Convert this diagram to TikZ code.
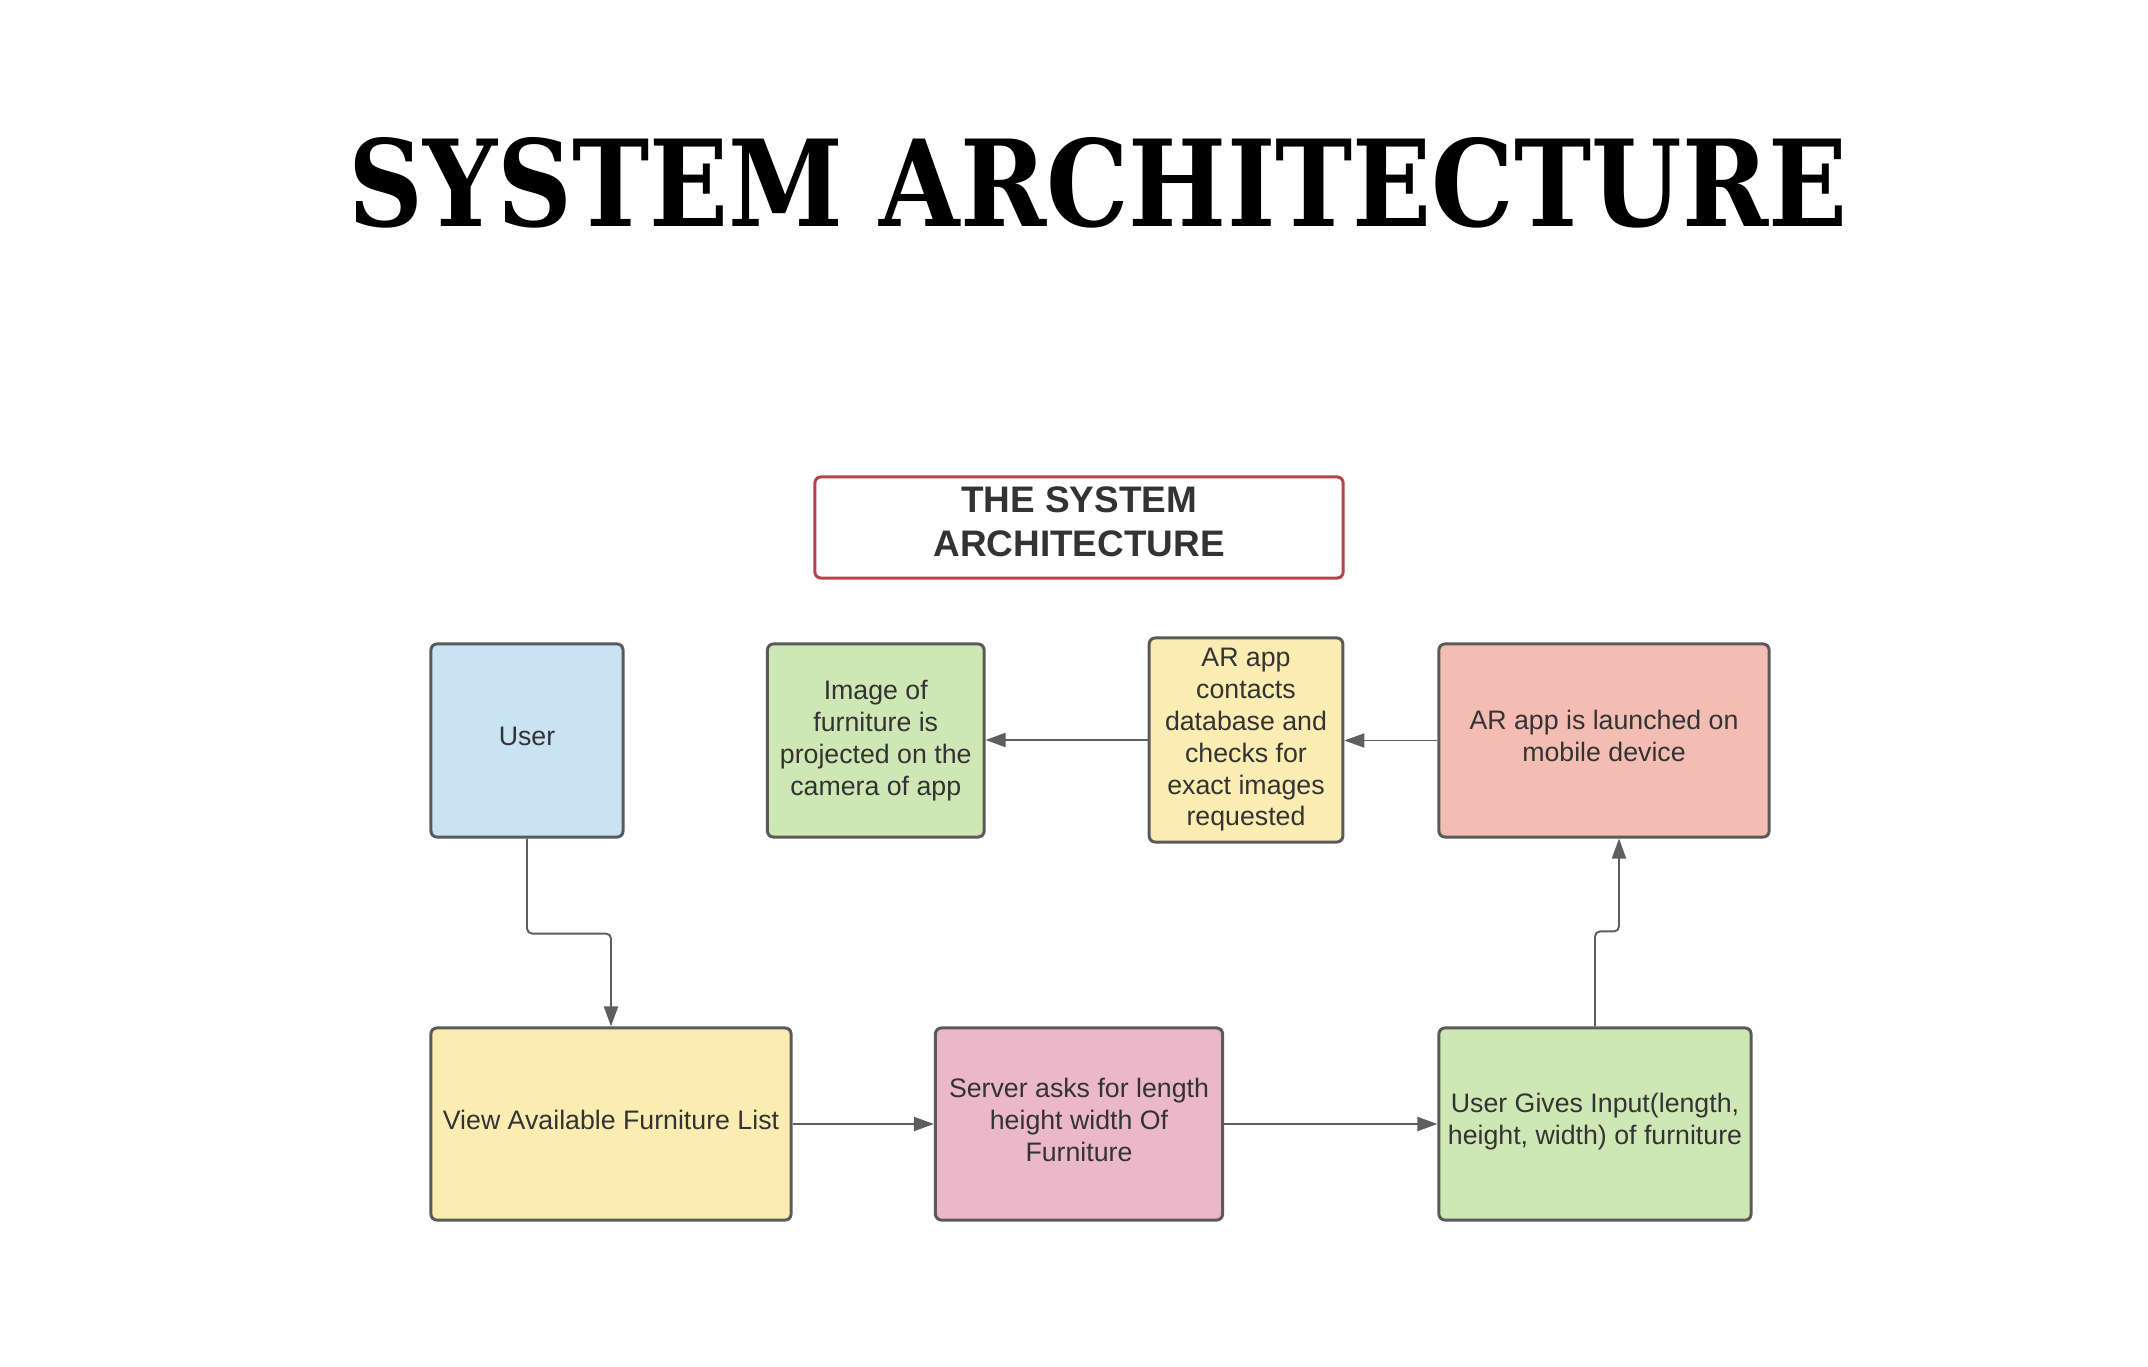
\documentclass[tikz,border=0pt]{standalone}
\usepackage{fontspec}
\usepackage{graphicx}
\setmainfont{Liberation Sans}
\newfontfamily\titlefont{DejaVu Serif}
\usetikzlibrary{arrows.meta,calc}
\definecolor{boxline}{HTML}{5A5A5A}
\definecolor{arrc}{HTML}{5E5E5E}
\definecolor{txt}{HTML}{333333}
\definecolor{hdrred}{HTML}{B8424B}
\definecolor{cblue}{HTML}{C9E3F5}
\definecolor{cgreen}{HTML}{CEE7B5}
\definecolor{cyellow}{HTML}{FBECB2}
\definecolor{csalmon}{HTML}{F4BDB3}
\definecolor{cpink}{HTML}{EBB8C9}
\newcommand\liftbox[2]{\raisebox{#1}[\height][\depth]{\begin{tabular}{@{}c@{}}#2\end{tabular}}}
\begin{document}
\begin{tikzpicture}[x=0.01cm,y=-0.01cm,
  box/.style={draw=boxline, line width=0.85pt, rounded corners=0.06cm, align=center,
    inner sep=0pt, text=txt, font=\fontsize{7.6}{9.05}\selectfont},
  arr/.style={draw=arrc, line width=0.55pt, rounded corners=0.05cm,
    -{Triangle[length=0.2cm,width=0.14cm]}}]
\fill[white] (0,0) rectangle (2148,1367);
\useasboundingbox (0,0) rectangle (2148,1367);

\node[inner sep=0pt, anchor=center] (title) at (1098,182.5)
  {\resizebox{14.98cm}{0.89cm}{\titlefont\bfseries SYSTEM ARCHITECTURE}};

\node[draw=hdrred, line width=0.85pt, rounded corners=0.06cm, fill=white,
  minimum width=5.28cm, minimum height=1.01cm, inner sep=0pt, align=center,
  text=txt, font=\fontsize{10.5}{12.5}\selectfont\bfseries] (hdr) at (1079,527.5)
  {\liftbox{0.015cm}{THE SYSTEM\\ARCHITECTURE}};

\node[box, fill=cblue, minimum width=1.92cm, minimum height=1.93cm] (user) at (527,740.5)
  {\liftbox{0.013cm}{User}};
\node[box, fill=cgreen, minimum width=2.165cm, minimum height=1.93cm] (img) at (875.75,740.5)
  {Image of\\furniture is\\projected on the\\camera of app};
\node[box, fill=cyellow, minimum width=1.935cm, minimum height=2.04cm] (ardb) at (1246,740)
  {AR app\\contacts\\database and\\checks for\\exact images\\requested};
\node[box, fill=csalmon, minimum width=3.30cm, minimum height=1.93cm] (arl) at (1604,740.5)
  {\liftbox{0.01cm}{AR app is launched on\\mobile device}};
\node[box, fill=cyellow, minimum width=3.60cm, minimum height=1.92cm] (view) at (611,1124)
  {\liftbox{0.013cm}{View Available Furniture List}};
\node[box, fill=cpink, minimum width=2.87cm, minimum height=1.92cm] (srv) at (1079,1124)
  {\liftbox{0.01cm}{Server asks for length\\height width Of\\Furniture}};
\node[box, fill=cgreen, minimum width=3.12cm, minimum height=1.92cm] (ug) at (1595,1124)
  {\liftbox{0.015cm}{User Gives Input(length,\\height, width) of furniture}};

\draw[arr] (user.south) -- ++(0,95) -| (view.north);
\draw[arr] (ug.north) -- ++(0,-95) -| ([xshift=0.15cm]arl.south);
\draw[arr] (arl.west) -- (arl.west -| ardb.east);
\draw[arr] (ardb.west) -- (ardb.west -| img.east);
\draw[arr] (view.east) -- (view.east -| srv.west);
\draw[arr] (srv.east) -- (srv.east -| ug.west);
\end{tikzpicture}
\end{document}
